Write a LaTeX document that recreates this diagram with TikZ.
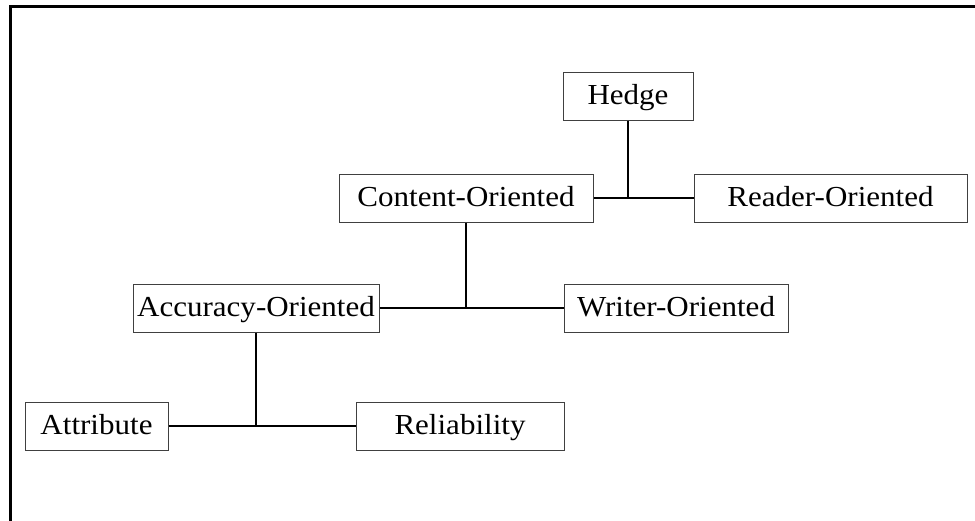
\documentclass[tikz,border=0pt]{standalone}
\usepackage{fontspec}
\setmainfont[FakeStretch=1.07]{Liberation Serif}
\usetikzlibrary{positioning}

\begin{document}
\begin{tikzpicture}[
    x=1pt, y=-1pt,
    node distance=100pt,
    box/.style={rectangle, draw=black!75, line width=1pt, fill=white, inner sep=0pt, minimum height=48pt, text height=21pt, text depth=5pt, font=\fontsize{29}{34}\selectfont},
    link/.style={line width=2.2pt}
]
    \useasboundingbox (0,0) rectangle (975,520);
    % outer frame (runs past the page on the right and bottom)
    \draw[line width=3pt] (10.5,6.5) rectangle (1000,560);

    \node[box, minimum width=130pt] (hedge) at (628,96) {Hedge};
    \node[box, minimum width=254pt] (content) at (466,198) {Content-Oriented};
    \node[box, minimum width=273pt, right=100pt of content] (reader) {Reader-Oriented};
    \node[box, minimum width=246pt] (accuracy) at (256,308) {Accuracy-Oriented};
    \node[box, minimum width=224pt, right=184pt of accuracy] (writer) {Writer-Oriented};
    \node[box, minimum width=143pt] (attribute) at (96.5,426) {Attribute};
    \node[box, minimum width=208pt, right=187pt of attribute] (reliability) {Reliability};

    \draw[link] (content) -- (reader);
    \draw[link] (hedge) -- (hedge |- content.east);
    \draw[link] (accuracy) -- (writer);
    \draw[link] (content) -- (content |- accuracy.east);
    \draw[link] (attribute) -- (reliability);
    \draw[link] (accuracy) -- (accuracy |- attribute.east);
\end{tikzpicture}
\end{document}
